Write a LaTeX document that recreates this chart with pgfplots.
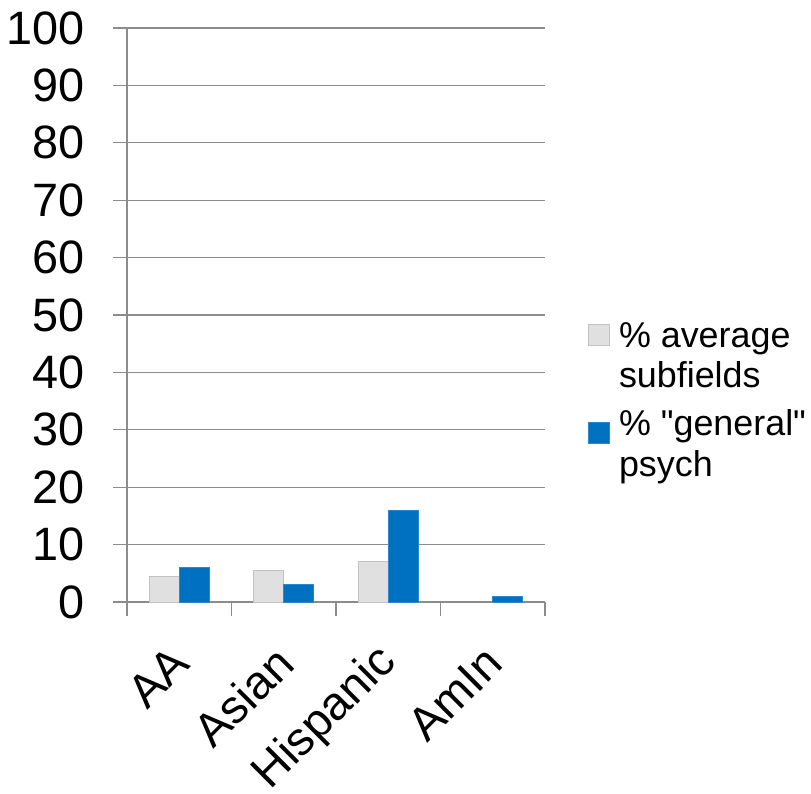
\documentclass[border=0pt]{standalone}
\usepackage{fontspec}
\setmainfont{Liberation Sans}[Ligatures=TeXOff]
\usepackage{pgfplots}
\pgfplotsset{compat=1.18}
\definecolor{barblue}{HTML}{0070C0}
\definecolor{barblueedge}{HTML}{2F86C8}
\definecolor{bargray}{HTML}{E0E0E0}
\definecolor{bargrayedge}{HTML}{C2C2C2}
\definecolor{gridgray}{HTML}{8C8C8C}
\begin{document}
\begin{tikzpicture}
\useasboundingbox (-127bp,-192bp) rectangle (684bp,602bp);
\begin{axis}[
  scale only axis, width=418bp, height=574bp,
  xmin=-0.5, xmax=3.5, ymin=0, ymax=100,
  axis lines*=left,
  axis line style={gridgray, line width=1.3bp},
  ytick={0,10,...,100},
  ymajorgrids, grid style={gridgray, line width=1.3bp},
  tick align=outside,
  major tick length=14bp,
  tick style={gridgray, line width=1.3bp},
  xtick={-0.5,0.5,1.5,2.5,3.5},
  xticklabels={},
  extra x ticks={0,1,2,3},
  extra x tick labels={AA,Asian,Hispanic,AmIn},
  extra x tick style={major tick length=0pt, grid=none,
    xticklabel style={yshift=-53bp, xshift=1bp, rotate=45, anchor=east, inner sep=0pt, font=\fontsize{47}{50}\selectfont}},
  yticklabel style={font=\fontsize{47}{50}\selectfont, inner sep=0pt, xshift=-28bp},
  /pgf/number format/assume math mode=true,
  ybar=0pt, bar width=30bp,
  legend style={at={(1.103,0.352)}, anchor=west, draw=none, fill=none, inner sep=0pt,
    font=\fontsize{36}{41}\selectfont, nodes={inner sep=0pt},
    cells={anchor=west, align=left}, row sep=20bp, column sep=9bp},
]
\addplot[fill=bargray, draw=bargrayedge, line width=0.8bp,
  legend image code/.code={\draw[fill=bargray, draw=bargrayedge, line width=0.8bp] (0bp,10bp) rectangle (21bp,31bp);}] coordinates {(0,4.5) (1,5.5) (2,7)};
\addlegendentry{\% average\\subfields}
\addplot[fill=barblue, draw=barblueedge, line width=0.8bp,
  legend image code/.code={\draw[fill=barblue, draw=barblueedge, line width=0.8bp] (0bp,0bp) rectangle (21bp,21bp);}] coordinates {(0,6) (1,3) (2,16) (3,1)};
\addlegendentry{\% "general"\\psych}
\end{axis}
\end{tikzpicture}
\end{document}
